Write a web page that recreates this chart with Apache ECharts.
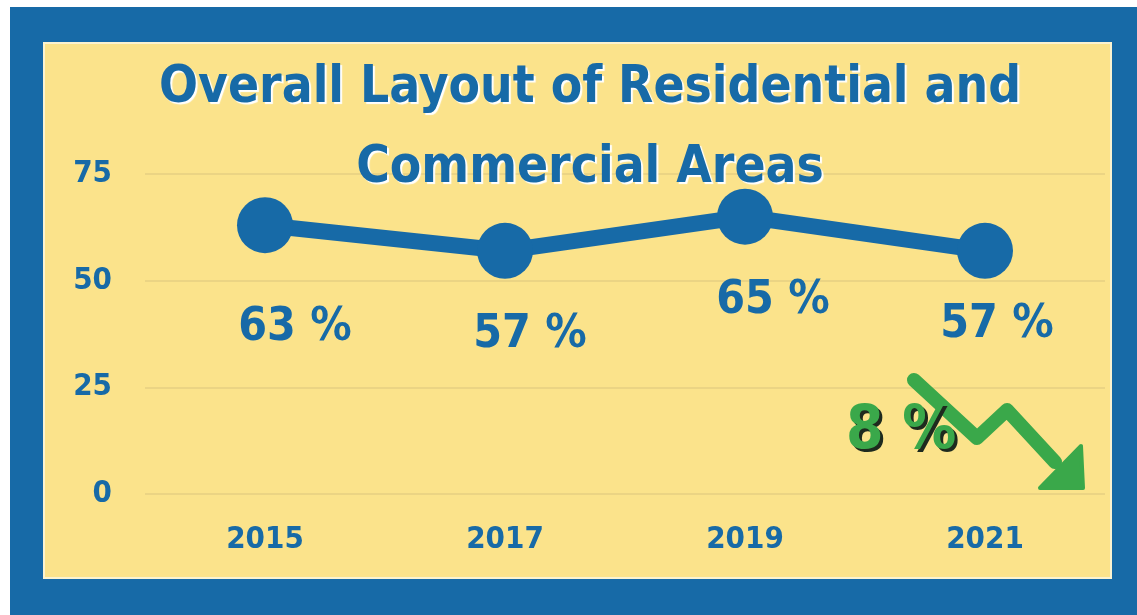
<!DOCTYPE html>
<html><head><meta charset="utf-8">
<script src="https://cdn.jsdelivr.net/npm/echarts@6/dist/echarts.min.js"></script>
<style>html,body{margin:0;padding:0;background:#fff;}#c{width:1137px;height:615px;}</style>
</head><body><div id="c"></div>
<script>
const titleText = 'Overall Layout of Residential and\nCommercial Areas';
const years = ['2015', '2017', '2019', '2021'];
const shares = [63, 57, 65, 57];
const yTicks = [0, 25, 50, 75];
const changeLabel = '8 %';

const BLUE = '#176aa7';
const YELLOW = '#fbe38b';
const GREEN = '#3aa84a';
const FONT = '"DejaVu Sans Condensed", "Liberation Sans Narrow", sans-serif';

const labelOffsets = [[30, 12], [25, -7], [28, -7], [12, -17]];

const chart = echarts.init(document.getElementById('c'));
chart.setOption({
  animation: false,
  backgroundColor: '#ffffff',
  title: {
    text: titleText,
    left: 585, top: 44, textAlign: 'center',
    textStyle: {
      fontFamily: FONT, fontWeight: 'bold', fontSize: 51, lineHeight: 80,
      color: BLUE, textShadowColor: '#ffffff', textShadowOffsetX: 2, textShadowOffsetY: 2, textShadowBlur: 1
    }
  },
  grid: { left: 145, right: 32, top: 174, bottom: 121 },
  xAxis: {
    type: 'category', data: years, boundaryGap: true,
    axisLine: { show: false }, axisTick: { show: false },
    axisLabel: { fontFamily: FONT, fontWeight: 'bold', fontSize: 31, color: BLUE, margin: 30 }
  },
  yAxis: {
    type: 'value', min: 0, max: 75, interval: 25,
    axisLabel: {
      fontFamily: FONT, fontWeight: 'bold', fontSize: 31, color: BLUE, margin: 33,
      formatter: v => yTicks.includes(v) ? String(v) : ''
    },
    splitLine: { lineStyle: { color: '#e6cf82', width: 1.5 } },
    axisLine: { show: false }, axisTick: { show: false }
  },
  series: [{
    type: 'line', data: shares.map((v, i) => ({
      value: v, label: { offset: labelOffsets[i] }
    })),
    symbol: 'circle', symbolSize: 56,
    lineStyle: { color: BLUE, width: 16 },
    itemStyle: { color: BLUE },
    label: {
      show: true, position: 'bottom', distance: 40,
      formatter: p => p.value + ' %',
      fontFamily: FONT, fontWeight: 'bold', fontSize: 46, color: BLUE
    },
    z: 5
  }],
  graphic: [
    { type: 'rect', z: -10, silent: true, shape: { x: 10, y: 7, width: 1127, height: 608 }, style: { fill: BLUE } },
    { type: 'rect', z: -9, silent: true, shape: { x: 44, y: 43, width: 1067, height: 535 }, style: { fill: YELLOW, stroke: '#fbf3d0', lineWidth: 2 } },
    { type: 'polyline', z: 10, shape: { points: [[914, 380], [977, 438], [1007, 410], [1055, 462]] },
      style: { stroke: GREEN, lineWidth: 14, fill: null, lineJoin: 'round', lineCap: 'round' } },
    { type: 'polygon', z: 10, shape: { points: [[1081, 446], [1083, 488], [1040, 488]] },
      style: { fill: GREEN, stroke: GREEN, lineWidth: 4, lineJoin: 'round' } },
    { type: 'text', z: 11, left: 849, top: 405,
      style: { text: changeLabel, font: 'bold 60px "DejaVu Sans Condensed", sans-serif', fill: '#1e2a1e' } },
    { type: 'text', z: 12, left: 846, top: 402,
      style: { text: changeLabel, font: 'bold 60px "DejaVu Sans Condensed", sans-serif', fill: GREEN } }
  ]
});
</script></body></html>
